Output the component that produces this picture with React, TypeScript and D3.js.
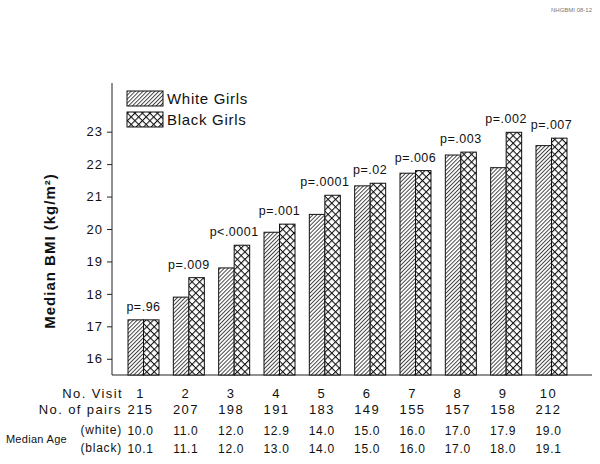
import React, { useRef, useEffect } from "react";
import * as d3 from "d3";

const visits = ["1", "2", "3", "4", "5", "6", "7", "8", "9", "10"];
const whiteBMI = [17.2, 17.9, 18.8, 19.9, 20.45, 21.33, 21.72, 22.28, 21.89, 22.57];
const blackBMI = [17.2, 18.5, 19.5, 20.15, 21.04, 21.41, 21.8, 22.37, 22.98, 22.8];
const pLabels = ["p=.96", "p=.009", "p<.0001", "p=.001", "p=.0001", "p=.02", "p=.006", "p=.003", "p=.002", "p=.007"];
const pairs = [215, 207, 198, 191, 183, 149, 155, 157, 158, 212];
const ageWhite = ["10.0", "11.0", "12.0", "12.9", "14.0", "15.0", "16.0", "17.0", "17.9", "19.0"];
const ageBlack = ["10.1", "11.1", "12.0", "13.0", "14.0", "15.0", "16.0", "17.0", "18.0", "19.1"];
const yTicks = [16, 17, 18, 19, 20, 21, 22, 23];
const seriesNames = ["White Girls", "Black Girls"];

const FONT = "'Liberation Sans', Arial, Helvetica, sans-serif";

const App = () => {
  const chartRef = useRef(null);

  useEffect(() => {
    const width = 600;
    const height = 464;

    d3.select(chartRef.current).select("svg").remove();

    const svg = d3
      .select(chartRef.current)
      .append("svg")
      .attr("width", width)
      .attr("height", height)
      .style("position", "absolute")
      .style("left", "0px")
      .style("top", "0px")
      .style("background", "#fff")
      .attr("font-family", FONT);

    // hatch patterns
    const defs = svg.append("defs");
    const hatch = defs
      .append("pattern")
      .attr("id", "hatchWhite")
      .attr("patternUnits", "userSpaceOnUse")
      .attr("width", 2.8)
      .attr("height", 2.8)
      .attr("patternTransform", "rotate(45)");
    hatch.append("rect").attr("width", 2.8).attr("height", 2.8).attr("fill", "#fff");
    hatch
      .append("line")
      .attr("x1", 0.5)
      .attr("y1", 0)
      .attr("x2", 0.5)
      .attr("y2", 2.8)
      .attr("stroke", "#333")
      .attr("stroke-width", 0.9);

    const cross = defs
      .append("pattern")
      .attr("id", "hatchBlack")
      .attr("patternUnits", "userSpaceOnUse")
      .attr("width", 5.3)
      .attr("height", 5.3)
      .attr("patternTransform", "rotate(45)");
    cross.append("rect").attr("width", 5.3).attr("height", 5.3).attr("fill", "#fff");
    cross
      .append("line")
      .attr("x1", 0.5)
      .attr("y1", 0)
      .attr("x2", 0.5)
      .attr("y2", 5.3)
      .attr("stroke", "#111")
      .attr("stroke-width", 1.1);
    cross
      .append("line")
      .attr("x1", 0)
      .attr("y1", 0.5)
      .attr("x2", 5.3)
      .attr("y2", 0.5)
      .attr("stroke", "#111")
      .attr("stroke-width", 1.1);

    const fills = ["url(#hatchWhite)", "url(#hatchBlack)"];

    const x = d3.scaleBand().domain(visits).range([128, 567]).paddingInner(0.316);
    const sub = d3.scaleBand().domain(seriesNames).range([0, x.bandwidth()]);
    const y = d3.scaleLinear().domain([15.5, 24.5]).range([375, 83]);

    // y axis
    const yAxis = svg
      .append("g")
      .attr("transform", "translate(112,0)")
      .call(d3.axisLeft(y).tickValues(yTicks).tickSize(5).tickPadding(4).tickFormat(d3.format("d")));
    yAxis.select(".domain").attr("d", `M0,${y(24.5)}V${y(15.5)}`).attr("stroke", "#222");
    yAxis.selectAll(".tick line").attr("stroke", "#222");
    yAxis
      .selectAll(".tick text")
      .attr("font-size", 13)
      .attr("letter-spacing", 1)
      .attr("fill", "#111")
      .attr("font-family", FONT);

    // baseline
    svg
      .append("line")
      .attr("x1", 112)
      .attr("x2", 592)
      .attr("y1", y(15.5))
      .attr("y2", y(15.5))
      .attr("stroke", "#222")
      .attr("stroke-width", 1.2);

    // bars
    const rows = visits.map((v, i) => ({ visit: v, vals: [whiteBMI[i], blackBMI[i]] }));
    const groups = svg
      .append("g")
      .selectAll("g")
      .data(rows)
      .join("g")
      .attr("transform", (d) => `translate(${x(d.visit)},0)`);

    groups
      .selectAll("rect")
      .data((d) => d.vals.map((v, j) => ({ key: seriesNames[j], value: v, j })))
      .join("rect")
      .attr("x", (d) => sub(d.key))
      .attr("y", (d) => y(d.value))
      .attr("width", sub.bandwidth())
      .attr("height", (d) => y(15.5) - y(d.value))
      .attr("fill", (d) => fills[d.j])
      .attr("stroke", "#111")
      .attr("stroke-width", 1);

    // p values
    svg
      .append("g")
      .attr("text-anchor", "middle")
      .attr("font-size", 12.5)
      .attr("letter-spacing", 0.5)
      .attr("fill", "#111")
      .selectAll("text")
      .data(rows)
      .join("text")
      .attr("x", (d) => x(d.visit) + x.bandwidth() / 2)
      .attr("y", (d) => y(Math.max(d.vals[0], d.vals[1])) - 9)
      .text((d, i) => pLabels[i]);

    // legend
    const legend = svg.append("g");
    seriesNames.forEach((name, i) => {
      legend
        .append("rect")
        .attr("x", 127)
        .attr("y", 91 + i * 21)
        .attr("width", 36)
        .attr("height", 15)
        .attr("fill", fills[i])
        .attr("stroke", "#111");
      legend
        .append("text")
        .attr("x", 167)
        .attr("y", 104 + i * 21)
        .attr("font-size", 15)
        .attr("letter-spacing", 0.7)
        .attr("fill", "#111")
        .text(name);
    });

    // y title
    svg
      .append("text")
      .attr("transform", "translate(55,251) rotate(-90)")
      .attr("text-anchor", "middle")
      .attr("font-size", 15)
      .attr("font-weight", "bold")
      .attr("letter-spacing", 1)
      .attr("fill", "#111")
      .text("Median BMI (kg/m²)");

    // table under the chart
    const cx = (v) => x(v) + x.bandwidth() / 2 - 3;
    const table = svg.append("g").attr("fill", "#111");

    table
      .append("text")
      .attr("x", 123)
      .attr("y", 398)
      .attr("text-anchor", "end")
      .attr("font-size", 13)
      .attr("letter-spacing", 1.4)
      .text("No. Visit");
    table
      .append("text")
      .attr("x", 122)
      .attr("y", 414)
      .attr("text-anchor", "end")
      .attr("font-size", 13)
      .attr("letter-spacing", 1.4)
      .text("No. of pairs");
    table
      .append("text")
      .attr("x", 67)
      .attr("y", 443)
      .attr("text-anchor", "end")
      .attr("font-size", 11)
      .attr("letter-spacing", 0.3)
      .text("Median Age");
    table
      .append("text")
      .attr("x", 122)
      .attr("y", 434)
      .attr("text-anchor", "end")
      .attr("font-size", 12)
      .attr("letter-spacing", 0.8)
      .text("(white)");
    table
      .append("text")
      .attr("x", 122)
      .attr("y", 452)
      .attr("text-anchor", "end")
      .attr("font-size", 12)
      .attr("letter-spacing", 0.8)
      .text("(black)");

    const rowDefs = [
      { vals: visits, yPos: 398, size: 13, ls: 1.4 },
      { vals: pairs.map(String), yPos: 414, size: 13, ls: 1.4 },
      { vals: ageWhite, yPos: 435, size: 12, ls: 0.7 },
      { vals: ageBlack, yPos: 453, size: 12, ls: 0.7 },
    ];
    rowDefs.forEach((r) => {
      table
        .append("g")
        .attr("text-anchor", "middle")
        .attr("font-size", r.size)
        .attr("letter-spacing", r.ls)
        .selectAll("text")
        .data(r.vals)
        .join("text")
        .attr("x", (d, i) => cx(visits[i]))
        .attr("y", r.yPos)
        .text((d) => d);
    });

    // tiny slide id
    svg
      .append("text")
      .attr("x", 592)
      .attr("y", 12)
      .attr("text-anchor", "end")
      .attr("font-size", 6)
      .attr("fill", "#777")
      .text("NHGBMI 08-12");
  }, []);

  return <div ref={chartRef}></div>;
};

export default App;
